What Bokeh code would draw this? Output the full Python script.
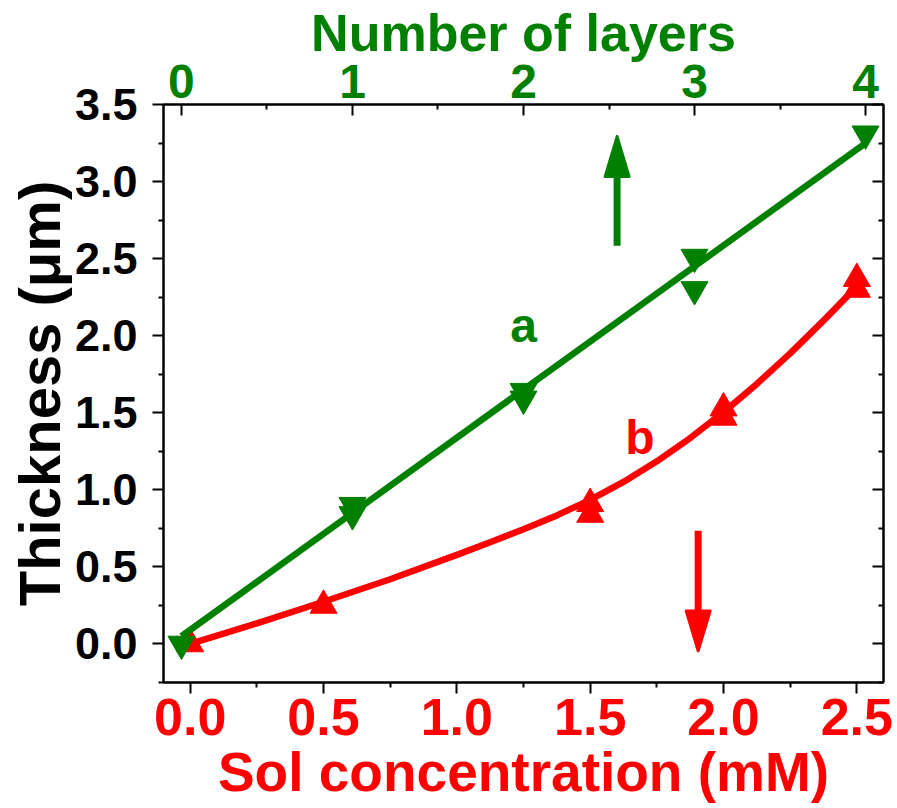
from bokeh.plotting import figure
from bokeh.models import (Range1d, LinearAxis, FixedTicker, PrintfTickFormatter, Label, Title)
from bokeh.embed import file_html
from bokeh.resources import INLINE

# ---------------- data ----------------
# series a : thickness vs number of layers (top axis)
layers = [0, 1, 1, 2, 2, 3, 3, 4]
thick_layers = [0.0, 0.90, 0.84, 1.64, 1.59, 2.51, 2.30, 3.31]
fit_layers = [0, 4]
fit_thick_layers = [0.05, 3.25]

# series b : thickness vs sol concentration (bottom axis)
conc = [0.0, 0.5, 1.5, 1.5, 2.0, 2.0, 2.5, 2.5]
thick_conc = [0.0, 0.25, 0.91, 0.84, 1.53, 1.47, 2.37, 2.30]
curve_conc = [0.0, 0.25, 0.5, 0.75, 1.0, 1.125, 1.25, 1.375, 1.5, 1.625,
              1.75, 1.875, 2.0, 2.125, 2.25, 2.375, 2.5]
curve_thick = [0.0, 0.134, 0.274, 0.42, 0.578, 0.66, 0.744, 0.834, 0.935,
               1.051, 1.185, 1.336, 1.504, 1.687, 1.885, 2.098, 2.32]

# ticks
y_major = [0.0, 0.5, 1.0, 1.5, 2.0, 2.5, 3.0, 3.5]
y_minor = [-0.25, 0.25, 0.75, 1.25, 1.75, 2.25, 2.75, 3.25]
x_major = [0.0, 0.5, 1.0, 1.5, 2.0, 2.5]
x_minor = [0.25, 0.75, 1.25, 1.75, 2.25]
top_major = [0, 1, 2, 3, 4]
top_minor = [0.5, 1.5, 2.5, 3.5]

GREEN = "#008000"
RED = "#FF0000"
FONT = "Liberation Sans"

p = figure(width=897, height=808, output_backend="svg", toolbar_location=None,
           x_range=Range1d(-0.1, 2.6), y_range=Range1d(-0.25, 3.5),
           min_border_left=163, min_border_right=14, min_border_top=104,
           min_border_bottom=126)
p.extra_x_ranges = {"layers": Range1d(-0.105, 4.105)}
p.grid.visible = False
p.outline_line_color = "black"
p.outline_line_width = 2
p.background_fill_color = "white"
p.border_fill_color = "white"


def style_axis(ax, color, tick_size, label_size):
    ax.axis_line_width = 2
    ax.axis_line_color = "black"
    ax.major_tick_line_width = 2
    ax.minor_tick_line_width = 2
    ax.major_tick_line_color = "black"
    ax.minor_tick_line_color = "black"
    ax.major_label_text_font = FONT
    ax.major_label_text_font_style = "bold"
    ax.major_label_text_font_size = tick_size
    ax.major_label_text_color = color
    ax.axis_label_text_font = FONT
    ax.axis_label_text_font_style = "bold"
    ax.axis_label_text_font_size = label_size
    ax.axis_label_text_color = color


# left axis
ly = p.yaxis[0]
ly.ticker = FixedTicker(ticks=y_major, minor_ticks=y_minor)
ly.formatter = PrintfTickFormatter(format="%.1f")
ly.axis_label = "Thickness (μm)"
style_axis(ly, "black", "45px", "58px")
ly.major_tick_out = 11
ly.major_tick_in = 0
ly.minor_tick_out = 5
ly.minor_tick_in = 0
ly.major_label_standoff = 15
ly.axis_label_standoff = 0

# bottom axis
bx = p.xaxis[0]
bx.ticker = FixedTicker(ticks=x_major, minor_ticks=x_minor)
bx.formatter = PrintfTickFormatter(format="%.1f")
bx.axis_label = "Sol concentration (mM)"
style_axis(bx, RED, "52px", "55px")
bx.major_tick_out = 11
bx.major_tick_in = 0
bx.minor_tick_out = 5
bx.minor_tick_in = 0
bx.major_label_standoff = 5
bx.axis_label_standoff = 3

# top axis (tick labels); its title is a Title panel stacked above it
tx = LinearAxis(x_range_name="layers",
                ticker=FixedTicker(ticks=top_major, minor_ticks=top_minor))
style_axis(tx, GREEN, "48px", "52px")
tx.major_tick_out = 0
tx.major_tick_in = 11
tx.minor_tick_out = 0
tx.minor_tick_in = 5
tx.major_label_standoff = 7
p.add_layout(tx, "above")

top_title = Title(text="Number of layers", align="center",
                  vertical_align="bottom", standoff=0,
                  text_font=FONT, text_font_style="bold",
                  text_font_size="52px", text_color=GREEN)
p.add_layout(top_title, "above")

# right axis (ticks only)
ry = LinearAxis(ticker=FixedTicker(ticks=y_major, minor_ticks=y_minor))
style_axis(ry, "black", "0px", "0px")
ry.major_label_text_color = None
ry.major_tick_out = 0
ry.major_tick_in = 11
ry.minor_tick_out = 0
ry.minor_tick_in = 5
ry.major_label_standoff = 0
p.add_layout(ry, "right")

# series b (red) first
p.line(curve_conc, curve_thick, line_color=RED, line_width=6.5,
       line_join="round")
p.scatter(conc, thick_conc, marker="triangle", size=27,
          fill_color=RED, line_color=RED)

# series a (green)
p.line(fit_layers, fit_thick_layers, line_color=GREEN, line_width=6.5,
       x_range_name="layers")
p.scatter(layers, thick_layers, marker="inverted_triangle", size=27,
          fill_color=GREEN, line_color=GREEN, x_range_name="layers")

# arrows (shaft + elongated head), in bottom-axis data units
XPX = 266.7   # px per mM
YPX = 154.1   # px per µm


def arrow(x, y0, y1, color):
    head_len = 40 / YPX
    head_half = 12 / XPX
    direction = 1 if y1 > y0 else -1
    base = y1 - direction * head_len
    p.segment(x0=[x], y0=[y0], x1=[x], y1=[base + direction * 0.02],
              line_color=color, line_width=7)
    p.patch([x - head_half, x + head_half, x], [base, base, y1],
            fill_color=color, line_color=color, line_width=3,
            line_join="round")


arrow(1.601, 2.584, 3.292, GREEN)
arrow(1.905, 0.734, -0.045, RED)

# series labels
for txt, x, y, c in [("a", 1.25, 2.065, GREEN), ("b", 1.687, 1.34, RED)]:
    p.add_layout(Label(x=x, y=y, text=txt, text_align="center",
                       text_baseline="alphabetic", text_font=FONT,
                       text_font_style="bold", text_font_size="48px",
                       text_color=c))

open("out.html", "w").write(file_html(p, INLINE))
